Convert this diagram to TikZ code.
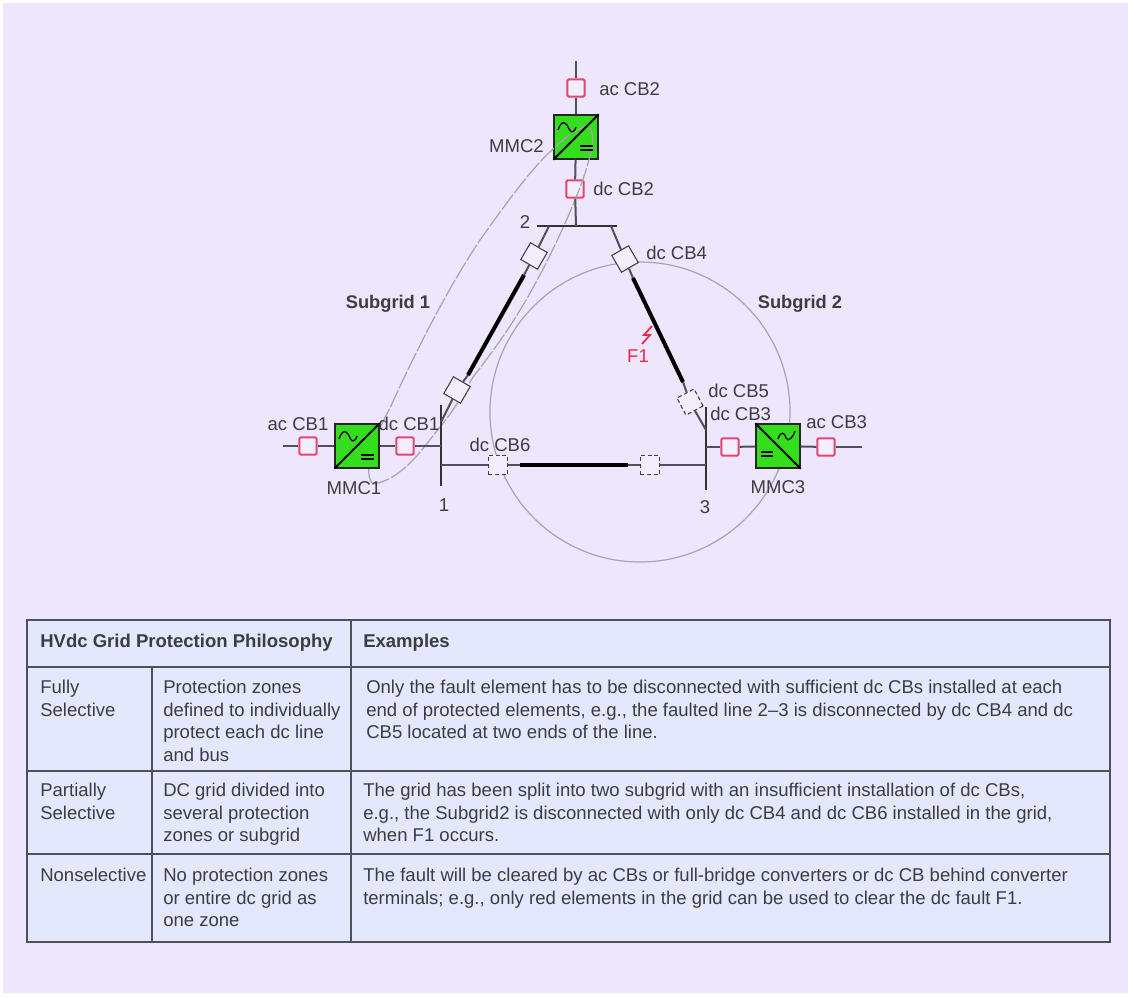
\documentclass[tikz,border=0pt]{standalone}
\usepackage{fontspec}
\setmainfont{Liberation Sans}
\usetikzlibrary{positioning, calc}
\definecolor{pagecol}{RGB}{238, 230, 252}
\definecolor{tablecol}{RGB}{228, 232, 252}
\definecolor{gridcol}{RGB}{80, 80, 90}
\definecolor{brkcol}{RGB}{226, 70, 110}
\definecolor{mmccol}{RGB}{52, 222, 28}
\definecolor{textcol}{RGB}{60, 60, 65}
\definecolor{faultcol}{RGB}{235, 40, 70}
\definecolor{zonecol}{RGB}{165, 165, 175}

\begin{document}
\begin{tikzpicture}[
        x=0.75pt, y=-0.75pt,
        wire/.style={draw=gridcol, line width=1.5pt},
        busbar/.style={draw=black!80, line width=1.5pt},
        thickline/.style={draw=black, line width=3pt},
        zone/.style={draw=zonecol, line width=0.9pt},
        rim/.style={draw=gridcol, line width=1.2pt},
        acdc/.style={rectangle, draw=black!85, line width=1.1pt, fill=mmccol, minimum size=33pt, inner sep=0pt},
        redbrk/.style={rectangle, draw=brkcol, rounded corners=1pt, line width=1.4pt, fill=pagecol!70!white, minimum size=13pt, inner sep=0pt},
        linebrk/.style={rectangle, draw=black!75, line width=0.8pt, fill=pagecol!70!white, minimum size=14.5pt, inner sep=0pt},
        lbl/.style={font=\fontsize{13.9}{16}\selectfont, text=textcol, inner sep=0pt},
        cell/.style={font=\fontsize{13.9}{16.9}\selectfont, text=textcol, align=left, anchor=north west, inner sep=0pt}
    ]
    % Page and table ground
    \fill[white] (0,0) rectangle (1128,997);
    \fill[pagecol] (3,3) rectangle (1128,993);
    \fill[tablecol] (27,620) rectangle (1110,942);

    % Red breakers
    \node[redbrk] (accb1) at (308,446) {};
    \node[redbrk] (dccb1) at (405,446) {};
    \node[redbrk] (accb2) at (576,88) {};
    \node[redbrk] (dccb2) at (575,189) {};
    \node[redbrk] (dccb3) at (730,447) {};
    \node[redbrk] (accb3) at (826,447) {};

    % Upper converter, under the zone line
    \node[acdc] (mmc2) at (576,137) {};

    % Protection zones
    \draw[zone] (640,412) circle (150);
    \draw[zone, dash pattern=on 14pt off 1.5pt] (374,484) .. controls (362,478) and (372,440) .. (390,408)
        .. controls (405,375) and (440,300) .. (480,240)
        .. controls (505,205) and (530,170) .. (552,150)
        .. controls (565,137) and (585,122) .. (590,128)
        .. controls (595,135) and (592,150) .. (588,163)
        .. controls (580,195) and (545,270) .. (520,310)
        .. controls (505,335) and (490,355) .. (473,377)
        .. controls (460,400) and (450,415) .. (440,427)
        .. controls (425,445) and (405,478) .. (374,484);

    % Lower converters
    \node[acdc] (mmc1) at (357,446) {};
    \node[acdc] (mmc3) at (778,446) {};

    % Line breakers
    \node[linebrk, rotate=-60] (dccb4) at (625,259) {};
    \node[linebrk, rotate=-62, densely dashed] (dccb5) at (690,402) {};
    \node[linebrk, densely dashed] (dccb6) at (498,465) {};
    \node[linebrk, rotate=60] (brk21) at (534,256) {};
    \node[linebrk, rotate=60] (brk12) at (457,390) {};
    \node[linebrk, densely dashed] (brk31) at (650,465) {};

    % Bus ends and free ends
    \coordinate (bus1top) at (441,405);
    \coordinate (bus1bot) at (441,486);
    \coordinate (bus2lft) at (537,226);
    \coordinate (bus2rgt) at (617,226);
    \coordinate (bus3top) at (706,407);
    \coordinate (bus3bot) at (706,490);
    \coordinate (tap1dc) at (441,446);
    \coordinate (tap1ln) at (441,465);
    \coordinate (tap1up) at (441,422);
    \coordinate (tap2) at (576,226);
    \coordinate (tap2l) at (549,226);
    \coordinate (tap2r) at (611,226);
    \coordinate (tap3dc) at (706,447);
    \coordinate (tap3ln) at (706,465);
    \coordinate (tap3up) at (706,430);
    \coordinate (acend1) at (283,446);
    \coordinate (acend2) at (576,61);
    \coordinate (acend3) at (862,447);

    % Thick line sections
    \coordinate (thl1) at (468,375);
    \coordinate (thl2) at (524,275);
    \coordinate (thr1) at (633,278);
    \coordinate (thr2) at (683,382);
    \coordinate (thb1) at (520,465);
    \coordinate (thb2) at (628,465);

    % Buses
    \draw[busbar] (bus1top) -- (bus1bot);
    \draw[busbar] (bus2lft) -- (bus2rgt);
    \draw[busbar] (bus3top) -- (bus3bot);

    % Wires
    \draw[wire] (acend1) -- (accb1);
    \draw[wire] (accb1) -- (mmc1);
    \draw[wire] (mmc1) -- (dccb1);
    \draw[wire] (dccb1) -- (tap1dc);
    \draw[wire] (acend2) -- (accb2);
    \draw[wire] (accb2) -- (mmc2);
    \draw[wire] (mmc2) -- (dccb2);
    \draw[wire] (dccb2) -- (tap2);
    \draw[wire] (acend3) -- (accb3);
    \draw[wire] (accb3) -- (mmc3);
    \draw[wire] (mmc3) -- (dccb3);
    \draw[wire] (dccb3) -- (tap3dc);
    \draw[wire] (tap2l) -- (brk21);
    \draw[wire] (brk21) -- (thl2);
    \draw[wire] (thl1) -- (brk12);
    \draw[wire] (brk12) -- (tap1up);
    \draw[wire] (tap2r) -- (dccb4);
    \draw[wire] (dccb4) -- (thr1);
    \draw[wire] (thr2) -- (dccb5);
    \draw[wire] (dccb5) -- (tap3up);
    \draw[wire] (tap1ln) -- (dccb6);
    \draw[wire] (dccb6) -- (thb1);
    \draw[wire] (thb2) -- (brk31);
    \draw[wire] (brk31) -- (tap3ln);
    \draw[thickline] (thl1) -- (thl2);
    \draw[thickline] (thr1) -- (thr2);
    \draw[thickline] (thb1) -- (thb2);

    % Converter symbols
    \foreach \m in {mmc1, mmc2} {
        \draw[line width=1.4pt] (\m.south west) -- (\m.north east);
        \draw[line width=1pt] ($(\m)+(-18,-7)$) .. controls ($(\m)+(-14,-19)$) and ($(\m)+(-9,-14)$) .. ($(\m)+(-7,-8)$) .. controls ($(\m)+(-5,-3)$) and ($(\m)+(-1,-5)$) .. ($(\m)+(0,-10)$);
        \draw[line width=1pt] ($(\m)+(4,9)$) -- ($(\m)+(17,9)$);
        \draw[line width=1pt] ($(\m)+(4,13)$) -- ($(\m)+(17,13)$);
    }
    \draw[line width=1.4pt] (mmc3.north west) -- (mmc3.south east);
    \draw[line width=1pt] ($(mmc3)+(0,-7)$) .. controls ($(mmc3)+(3,-16)$) and ($(mmc3)+(7,-13)$) .. ($(mmc3)+(8,-8)$) .. controls ($(mmc3)+(10,-3)$) and ($(mmc3)+(16,-10)$) .. ($(mmc3)+(17,-15)$);
    \draw[line width=1pt] ($(mmc3)+(-17,6)$) -- ($(mmc3)+(-5,6)$);
    \draw[line width=1pt] ($(mmc3)+(-17,10)$) -- ($(mmc3)+(-5,10)$);

    % Fault
    \draw[faultcol, line width=1.3pt] (652,326) -- (644,335) -- (650,335) -- (642,344);
    \node[lbl, text=faultcol] (f1) at (638,356) {F1};

    % Labels
    \node[lbl, anchor=west] (la2) at (599,89) {ac CB2};
    \node[lbl, anchor=east] (lm2) at (544,146) {MMC2};
    \node[lbl, anchor=west] (ld2) at (593,189) {dc CB2};
    \node[lbl] (lb2) at (525,222) {2};
    \node[lbl, anchor=west] (ld4) at (646,253) {dc CB4};
    \node[lbl, font=\fontsize{13.7}{16}\selectfont\bfseries] (sg1) at (388,304) {Subgrid 1};
    \node[lbl, font=\fontsize{13.7}{16}\selectfont\bfseries] (sg2) at (800,304) {Subgrid 2};
    \node[lbl, anchor=west] (ld5) at (708,391) {dc CB5};
    \node[lbl, anchor=west] (ld3) at (710,414) {dc CB3};
    \node[lbl, anchor=west] (la3) at (806,422) {ac CB3};
    \node[lbl] (la1) at (298,424) {ac CB1};
    \node[lbl] (ld1) at (409,424) {dc CB1};
    \node[lbl] (ld6) at (500,445) {dc CB6};
    \node[lbl] (lm1) at (354,488) {MMC1};
    \node[lbl] (lm3) at (778,487) {MMC3};
    \node[lbl] (lb1) at (444,505) {1};
    \node[lbl] (lb3) at (705,507) {3};

    % Table rules
    \draw[rim] (27,620) rectangle (1110,942);
    \draw[rim] (27,667) -- (1110,667);
    \draw[rim] (27,771) -- (1110,771);
    \draw[rim] (27,854) -- (1110,854);
    \draw[rim] (152,667) -- (152,942);
    \draw[rim] (351,620) -- (351,942);

    % Table text
    \node[cell, font=\fontsize{13.9}{16.9}\selectfont\bfseries] (hd1) at (40,634) {HVdc Grid Protection Philosophy};
    \node[cell, font=\fontsize{13.9}{16.9}\selectfont\bfseries] (hd2) at (363,634) {Examples};

    \node[cell] (fs1) at (40,680) {Fully\\Selective};
    \node[cell] (fs2) at (163,680) {Protection zones\\defined to individually\\protect each dc line\\and bus};
    \node[cell] (fs3) at (366,680) {Only the fault element has to be disconnected with sufficient dc CBs installed at each\\end of protected elements, e.g., the faulted line 2--3 is disconnected by dc CB4 and dc\\CB5 located at two ends of the line.};

    \node[cell] (ps1) at (40,783) {Partially\\Selective};
    \node[cell] (ps2) at (163,783) {DC grid divided into\\several protection\\zones or subgrid};
    \node[cell] (ps3) at (363,783) {The grid has been split into two subgrid with an insufficient installation of dc CBs,\\e.g., the Subgrid2 is disconnected with only dc CB4 and dc CB6 installed in the grid,\\when F1 occurs.};

    \node[cell] (ns1) at (40,868) {Nonselective};
    \node[cell] (ns2) at (163,868) {No protection zones\\or entire dc grid as\\one zone};
    \node[cell] (ns3) at (363,868) {The fault will be cleared by ac CBs or full-bridge converters or dc CB behind converter\\terminals; e.g., only red elements in the grid can be used to clear the dc fault F1.};
\end{tikzpicture}
\end{document}
